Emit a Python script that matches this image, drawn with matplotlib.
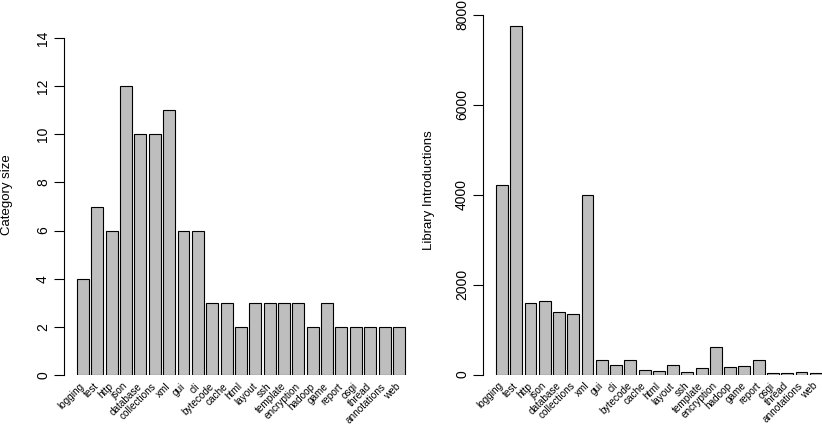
import matplotlib
matplotlib.use("Agg")
import matplotlib.pyplot as plt
import numpy as np

plt.rcParams['font.family'] = ['Liberation Sans', 'DejaVu Sans']

categories = ["logging", "test", "http", "json", "database", "collections", "xml",
              "gui", "cli", "bytecode", "cache", "html", "layout", "ssh", "template",
              "encryption", "hadoop", "game", "report", "osgi", "thread",
              "annotations", "web"]
category_size = [4, 7, 6, 12, 10, 10, 11, 6, 6, 3, 3, 2, 3, 3, 3, 3, 2, 3, 2, 2, 2, 2, 2]
library_introductions = [4220, 7760, 1580, 1635, 1380, 1355, 3985, 320, 205, 330,
                         110, 85, 205, 65, 145, 615, 160, 200, 320, 40, 30, 50, 40]

W, H = 822, 429
fig = plt.figure(figsize=(W / 100, H / 100), dpi=100)

n = len(categories)
pos = 0.7 + 1.2 * np.arange(n)
xl = (0.2 - 0.04 * 27.4, 27.6 + 0.04 * 27.4)


def setup(ax, vals, yticks, tick_fs):
    ax.bar(pos, vals, width=1.0, color="#BEBEBE", edgecolor="black", linewidth=0.8)
    ax.set_xlim(*xl)
    ax.set_ylim(0, yticks[-1])
    for s in ["top", "right", "bottom"]:
        ax.spines[s].set_visible(False)
    ax.spines["left"].set_bounds(yticks[0], yticks[-1])
    ax.spines["left"].set_linewidth(0.8)
    ax.set_yticks(yticks)
    ax.set_yticklabels([str(t) for t in yticks], rotation=90, va="center",
                       fontsize=tick_fs)
    ax.tick_params(axis="y", length=7, width=0.8, pad=3)
    ax.set_xticks(pos)
    ax.set_xticklabels(categories, rotation=45, ha="right", va="center",
                       rotation_mode="anchor", fontsize=7.2)
    ax.tick_params(axis="x", length=0, pad=7)
    ax.patch.set_visible(False)


# left axes: y axis at x=64, 0 at y=375, 14 at y=38
ax1 = fig.add_axes([63.9 / W, (H - 375) / H, (418 - 63.9) / W, (375 - 38) / H])
setup(ax1, category_size, [0, 2, 4, 6, 8, 10, 12, 14], 10)

# right axes: y axis at x=483, 0 at y=374.5, 8000 at y=15
ax2 = fig.add_axes([483 / W, (H - 374.5) / H, (834.7 - 483) / W, (374.5 - 15) / H])
setup(ax2, library_introductions, [0, 2000, 4000, 6000, 8000], 10)

fig.text(7 / W, 1 - 195 / H, "Category size", rotation=90, ha="center",
         va="center", fontsize=9.5)
fig.text(429 / W, 1 - 190 / H, "Library Introductions", rotation=90, ha="center",
         va="center", fontsize=9.5)

fig.savefig("out.png", dpi=100)
